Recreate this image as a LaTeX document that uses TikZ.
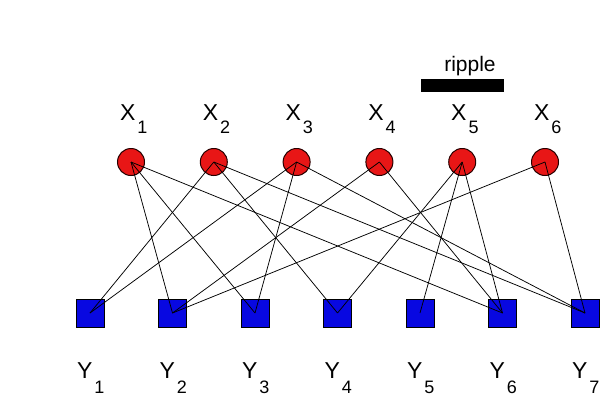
\documentclass[tikz,border=0pt]{standalone}
\usepackage{fontspec}
\setmainfont{Liberation Sans}
\definecolor{nodered}{RGB}{232,22,22}
\definecolor{nodeblue}{RGB}{8,8,225}
\begin{document}
\begin{tikzpicture}[x=1pt,y=-1pt,
  xnode/.style={circle,draw=black!85!red,line width=1pt,fill=nodered,minimum size=27pt,inner sep=0pt},
  ynode/.style={rectangle,draw=black,line width=1pt,fill=nodeblue,minimum size=28pt,inner sep=0pt},
  edge/.style={draw=black,line width=0.75pt},
  lab/.style={anchor=base west,inner sep=0pt,outer sep=0pt}]
\useasboundingbox (0,0) rectangle (613,413);
\newcommand{\xlab}[1]{{\fontsize{23}{23}\selectfont X}\kern2pt\raisebox{-13pt}{\fontsize{18}{18}\selectfont #1}}
\newcommand{\ylab}[1]{{\fontsize{23}{23}\selectfont Y}\kern2pt\raisebox{-15pt}{\fontsize{18}{18}\selectfont #1}}
% top nodes
\foreach \i in {1,...,6}{
  \pgfmathsetmacro{\xx}{131+82.8*(\i-1)}
  \node[xnode] (X\i) at (\xx,162) {};
  \node[lab] (XL\i) at (\xx-11,120) {\xlab{\i}};
}
% bottom nodes
\foreach \j in {1,...,7}{
  \pgfmathsetmacro{\yy}{90+82.5*(\j-1)}
  \node[ynode] (Y\j) at (\yy,313) {};
  \node[lab] (YL\j) at (\yy-13,378) {\ylab{\j}};
}
% ripple legend
\node[anchor=base,inner sep=0pt,font=\fontsize{21}{21}\selectfont] (ripple) at (470,71) {ripple};
\fill[black] (421,79) rectangle (504,92);
% edges
\foreach \a/\b in {1/2,1/3,1/6,2/1,2/4,2/7,3/1,3/3,3/7,4/2,4/6,5/4,5/5,5/6,6/2,6/7}{
  \draw[edge] (X\a.center) -- (Y\b.center);
}
\end{tikzpicture}
\end{document}
